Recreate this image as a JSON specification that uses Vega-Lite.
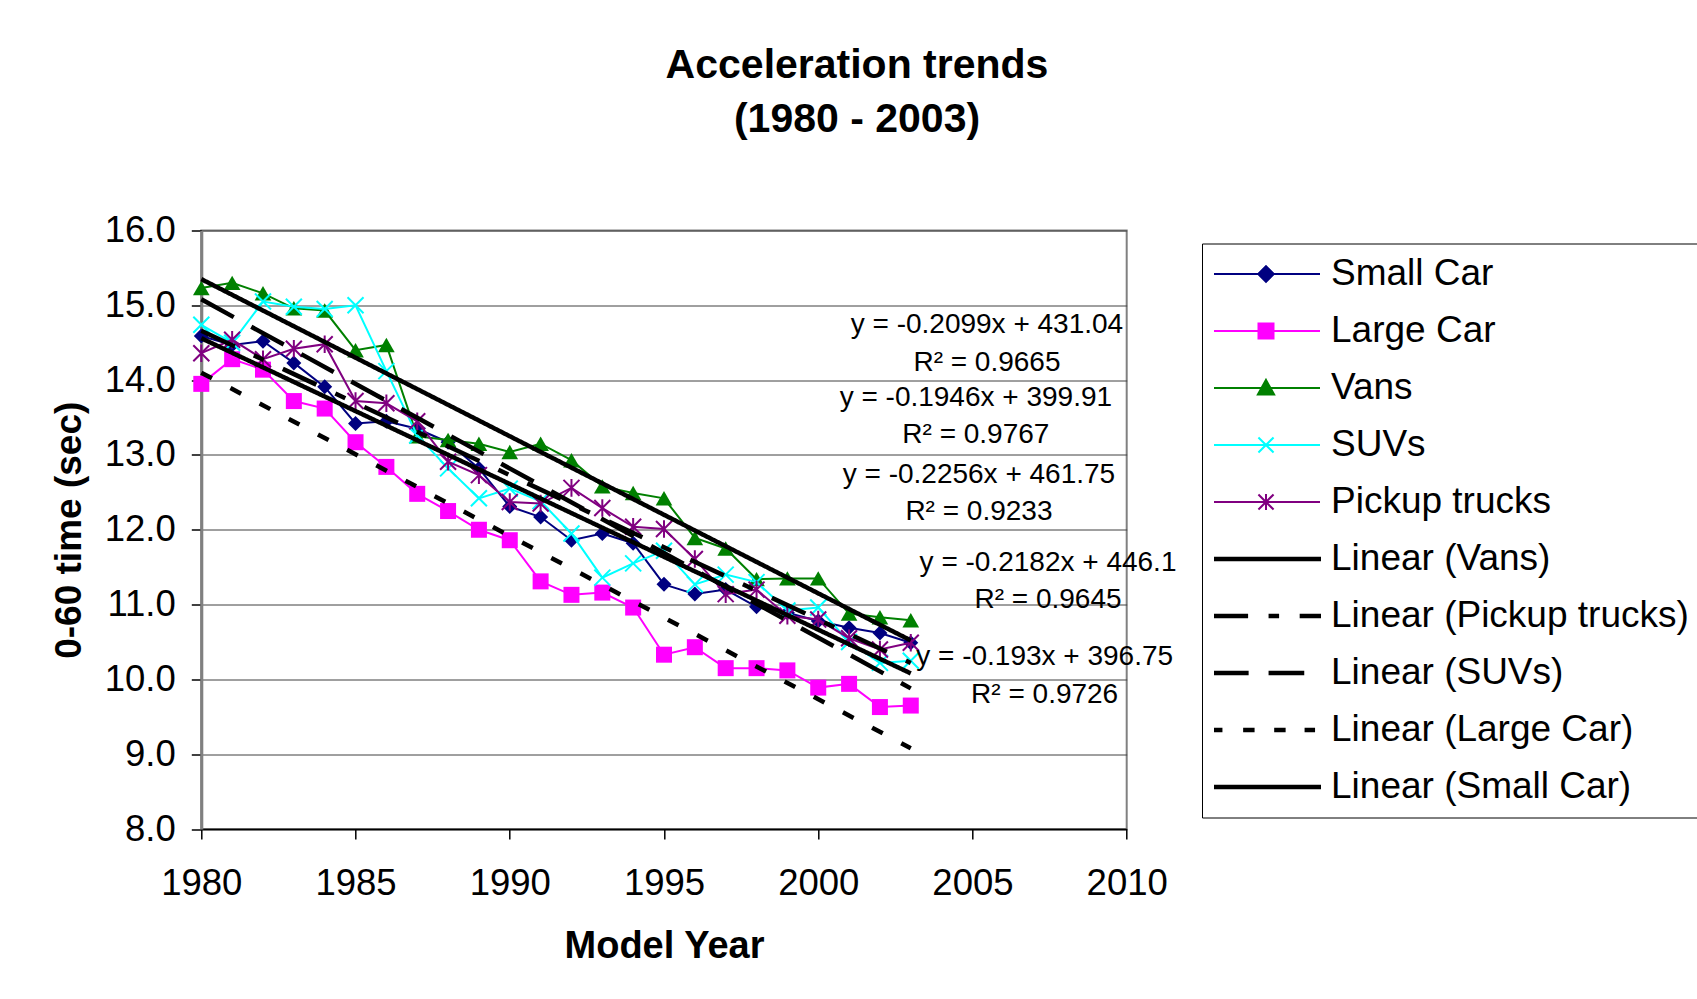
{
  "$schema": "https://vega.github.io/schema/vega-lite/v6.json",
  "width": 925.4,
  "height": 598.5,
  "autosize": {"type": "none"},
  "padding": {"left": 201.3, "top": 230.5, "right": 570.3, "bottom": 170},
  "background": "white",
  "title": {
    "text": ["Acceleration trends", "(1980 - 2003)"],
    "anchor": "middle",
    "frame": "group",
    "dx": 193,
    "offset": 72,
    "fontSize": 41,
    "font": "Liberation Sans",
    "fontWeight": "bold",
    "lineHeight": 54,
    "color": "black"
  },
  "config": {
    "font": "Liberation Sans",
    "view": {"stroke": "#808080", "strokeWidth": 2},
    "legend": {"symbolOpacity": 1, "symbolFillColor": "#000000"}
  },
  "datasets": {
    "cars": [
      {"series": "Small Car", "year": 1980, "value": 14.59}, {"series": "Small Car", "year": 1981, "value": 14.47}, {"series": "Small Car", "year": 1982, "value": 14.52}, {"series": "Small Car", "year": 1983, "value": 14.23}, {"series": "Small Car", "year": 1984, "value": 13.91}, {"series": "Small Car", "year": 1985, "value": 13.42}, {"series": "Small Car", "year": 1986, "value": 13.45}, {"series": "Small Car", "year": 1987, "value": 13.35}, {"series": "Small Car", "year": 1988, "value": 13.17}, {"series": "Small Car", "year": 1989, "value": 12.82}, {"series": "Small Car", "year": 1990, "value": 12.31}, {"series": "Small Car", "year": 1991, "value": 12.17}, {"series": "Small Car", "year": 1992, "value": 11.86}, {"series": "Small Car", "year": 1993, "value": 11.95}, {"series": "Small Car", "year": 1994, "value": 11.82}, {"series": "Small Car", "year": 1995, "value": 11.27}, {"series": "Small Car", "year": 1996, "value": 11.14}, {"series": "Small Car", "year": 1997, "value": 11.2}, {"series": "Small Car", "year": 1998, "value": 10.97}, {"series": "Small Car", "year": 1999, "value": 10.89}, {"series": "Small Car", "year": 2000, "value": 10.78}, {"series": "Small Car", "year": 2001, "value": 10.69}, {"series": "Small Car", "year": 2002, "value": 10.62}, {"series": "Small Car", "year": 2003, "value": 10.49},
      {"series": "Large Car", "year": 1980, "value": 13.95}, {"series": "Large Car", "year": 1981, "value": 14.28}, {"series": "Large Car", "year": 1982, "value": 14.14}, {"series": "Large Car", "year": 1983, "value": 13.72}, {"series": "Large Car", "year": 1984, "value": 13.62}, {"series": "Large Car", "year": 1985, "value": 13.17}, {"series": "Large Car", "year": 1986, "value": 12.84}, {"series": "Large Car", "year": 1987, "value": 12.48}, {"series": "Large Car", "year": 1988, "value": 12.25}, {"series": "Large Car", "year": 1989, "value": 12.0}, {"series": "Large Car", "year": 1990, "value": 11.86}, {"series": "Large Car", "year": 1991, "value": 11.31}, {"series": "Large Car", "year": 1992, "value": 11.13}, {"series": "Large Car", "year": 1993, "value": 11.16}, {"series": "Large Car", "year": 1994, "value": 10.96}, {"series": "Large Car", "year": 1995, "value": 10.33}, {"series": "Large Car", "year": 1996, "value": 10.43}, {"series": "Large Car", "year": 1997, "value": 10.15}, {"series": "Large Car", "year": 1998, "value": 10.15}, {"series": "Large Car", "year": 1999, "value": 10.12}, {"series": "Large Car", "year": 2000, "value": 9.89}, {"series": "Large Car", "year": 2001, "value": 9.94}, {"series": "Large Car", "year": 2002, "value": 9.63}, {"series": "Large Car", "year": 2003, "value": 9.65},
      {"series": "Vans", "year": 1980, "value": 15.23}, {"series": "Vans", "year": 1981, "value": 15.3}, {"series": "Vans", "year": 1982, "value": 15.16}, {"series": "Vans", "year": 1983, "value": 14.96}, {"series": "Vans", "year": 1984, "value": 14.93}, {"series": "Vans", "year": 1985, "value": 14.4}, {"series": "Vans", "year": 1986, "value": 14.47}, {"series": "Vans", "year": 1987, "value": 13.25}, {"series": "Vans", "year": 1988, "value": 13.2}, {"series": "Vans", "year": 1989, "value": 13.15}, {"series": "Vans", "year": 1990, "value": 13.04}, {"series": "Vans", "year": 1991, "value": 13.15}, {"series": "Vans", "year": 1992, "value": 12.93}, {"series": "Vans", "year": 1993, "value": 12.58}, {"series": "Vans", "year": 1994, "value": 12.49}, {"series": "Vans", "year": 1995, "value": 12.42}, {"series": "Vans", "year": 1996, "value": 11.89}, {"series": "Vans", "year": 1997, "value": 11.75}, {"series": "Vans", "year": 1998, "value": 11.34}, {"series": "Vans", "year": 1999, "value": 11.35}, {"series": "Vans", "year": 2000, "value": 11.35}, {"series": "Vans", "year": 2001, "value": 10.88}, {"series": "Vans", "year": 2002, "value": 10.83}, {"series": "Vans", "year": 2003, "value": 10.79},
      {"series": "SUVs", "year": 1980, "value": 14.74}, {"series": "SUVs", "year": 1981, "value": 14.5}, {"series": "SUVs", "year": 1982, "value": 15.05}, {"series": "SUVs", "year": 1983, "value": 14.98}, {"series": "SUVs", "year": 1984, "value": 14.95}, {"series": "SUVs", "year": 1985, "value": 15.0}, {"series": "SUVs", "year": 1986, "value": 14.12}, {"series": "SUVs", "year": 1987, "value": 13.26}, {"series": "SUVs", "year": 1988, "value": 12.82}, {"series": "SUVs", "year": 1989, "value": 12.42}, {"series": "SUVs", "year": 1990, "value": 12.55}, {"series": "SUVs", "year": 1991, "value": 12.38}, {"series": "SUVs", "year": 1992, "value": 11.95}, {"series": "SUVs", "year": 1993, "value": 11.36}, {"series": "SUVs", "year": 1994, "value": 11.55}, {"series": "SUVs", "year": 1995, "value": 11.72}, {"series": "SUVs", "year": 1996, "value": 11.27}, {"series": "SUVs", "year": 1997, "value": 11.4}, {"series": "SUVs", "year": 1998, "value": 11.3}, {"series": "SUVs", "year": 1999, "value": 10.92}, {"series": "SUVs", "year": 2000, "value": 10.96}, {"series": "SUVs", "year": 2001, "value": 10.5}, {"series": "SUVs", "year": 2002, "value": 10.22}, {"series": "SUVs", "year": 2003, "value": 10.25},
      {"series": "Pickup trucks", "year": 1980, "value": 14.36}, {"series": "Pickup trucks", "year": 1981, "value": 14.54}, {"series": "Pickup trucks", "year": 1982, "value": 14.28}, {"series": "Pickup trucks", "year": 1983, "value": 14.42}, {"series": "Pickup trucks", "year": 1984, "value": 14.48}, {"series": "Pickup trucks", "year": 1985, "value": 13.72}, {"series": "Pickup trucks", "year": 1986, "value": 13.69}, {"series": "Pickup trucks", "year": 1987, "value": 13.45}, {"series": "Pickup trucks", "year": 1988, "value": 12.91}, {"series": "Pickup trucks", "year": 1989, "value": 12.73}, {"series": "Pickup trucks", "year": 1990, "value": 12.37}, {"series": "Pickup trucks", "year": 1991, "value": 12.35}, {"series": "Pickup trucks", "year": 1992, "value": 12.56}, {"series": "Pickup trucks", "year": 1993, "value": 12.29}, {"series": "Pickup trucks", "year": 1994, "value": 12.04}, {"series": "Pickup trucks", "year": 1995, "value": 12.01}, {"series": "Pickup trucks", "year": 1996, "value": 11.61}, {"series": "Pickup trucks", "year": 1997, "value": 11.14}, {"series": "Pickup trucks", "year": 1998, "value": 11.2}, {"series": "Pickup trucks", "year": 1999, "value": 10.85}, {"series": "Pickup trucks", "year": 2000, "value": 10.8}, {"series": "Pickup trucks", "year": 2001, "value": 10.55}, {"series": "Pickup trucks", "year": 2002, "value": 10.4}, {"series": "Pickup trucks", "year": 2003, "value": 10.49}
    ],
    "trends": [
      {"series": "Linear (Vans)", "year": 1980, "value": 15.35}, {"series": "Linear (Vans)", "year": 2003, "value": 10.52},
      {"series": "Linear (Pickup trucks)", "year": 1980, "value": 14.66}, {"series": "Linear (Pickup trucks)", "year": 2003, "value": 10.22},
      {"series": "Linear (SUVs)", "year": 1980, "value": 15.08}, {"series": "Linear (SUVs)", "year": 2003, "value": 9.88},
      {"series": "Linear (Large Car)", "year": 1980, "value": 14.1}, {"series": "Linear (Large Car)", "year": 2003, "value": 9.08},
      {"series": "Linear (Small Car)", "year": 1980, "value": 14.56}, {"series": "Linear (Small Car)", "year": 2003, "value": 10.08}
    ],
    "equations": [
      {"label": "y = -0.2099x + 431.04", "year": 2005.47, "value": 14.737},
      {"label": "R² = 0.9665", "year": 2005.47, "value": 14.233},
      {"label": "y = -0.1946x + 399.91", "year": 2005.11, "value": 13.757},
      {"label": "R² = 0.9767", "year": 2005.11, "value": 13.266},
      {"label": "y = -0.2256x + 461.75", "year": 2005.21, "value": 12.732},
      {"label": "R² = 0.9233", "year": 2005.21, "value": 12.241},
      {"label": "y = -0.2182x + 446.1", "year": 2007.45, "value": 11.551},
      {"label": "R² = 0.9645", "year": 2007.45, "value": 11.061},
      {"label": "y = -0.193x + 396.75", "year": 2007.34, "value": 10.303},
      {"label": "R² = 0.9726", "year": 2007.34, "value": 9.791}
    ],
    "legend": [
      {"series": "Small Car"}, {"series": "Large Car"}, {"series": "Vans"}, {"series": "SUVs"}, {"series": "Pickup trucks"},
      {"series": "Linear (Vans)"}, {"series": "Linear (Pickup trucks)"}, {"series": "Linear (SUVs)"}, {"series": "Linear (Large Car)"}, {"series": "Linear (Small Car)"}
    ]
  },
  "encoding": {
    "x": {
      "field": "year", "type": "quantitative",
      "scale": {"domain": [1980, 2010], "nice": false, "zero": false},
      "axis": {
        "title": "Model Year", "values": [1980, 1985, 1990, 1995, 2000, 2005, 2010], "format": "d",
        "labelFontSize": 36.5, "labelColor": "black", "labelPadding": 26, "labelFlush": false, "labelOverlap": false,
        "tickSize": 10, "tickColor": "black", "tickWidth": 1.5, "domainColor": "black", "domainWidth": 1.5, "grid": false,
        "titleFontSize": 38, "titleFontWeight": "bold", "titleColor": "black", "titlePadding": 26
      }
    },
    "y": {
      "field": "value", "type": "quantitative",
      "scale": {"domain": [8, 16], "nice": false, "zero": false},
      "axis": {
        "title": "0-60 time (sec)", "values": [8, 9, 10, 11, 12, 13, 14, 15, 16], "format": ".1f",
        "labelFontSize": 36.5, "labelColor": "black", "labelPadding": 16, "labelFlush": false, "labelOverlap": false,
        "tickSize": 10, "tickColor": "black", "tickWidth": 1.5, "domainColor": "#808080", "domainWidth": 3,
        "grid": true, "gridColor": "#404040", "gridWidth": 1,
        "titleFontSize": 37, "titleFontWeight": "bold", "titleColor": "black", "titlePadding": 16
      }
    }
  },
  "layer": [
    {
      "data": {"name": "cars"},
      "transform": [{"filter": {"field": "series", "equal": "Small Car"}}],
      "mark": {"type": "line", "color": "#000080", "strokeWidth": 2, "point": {"shape": "diamond", "filled": true, "size": 225, "color": "#000080"}}
    },
    {
      "data": {"name": "cars"},
      "transform": [{"filter": {"field": "series", "equal": "Large Car"}}],
      "mark": {"type": "line", "color": "#FF00FF", "strokeWidth": 2, "point": {"shape": "square", "filled": true, "size": 256, "color": "#FF00FF"}}
    },
    {
      "data": {"name": "cars"},
      "transform": [{"filter": {"field": "series", "equal": "Vans"}}],
      "mark": {"type": "line", "color": "#008000", "strokeWidth": 2, "point": {"shape": "triangle-up", "filled": true, "size": 278, "color": "#008000"}}
    },
    {
      "data": {"name": "cars"},
      "transform": [{"filter": {"field": "series", "equal": "SUVs"}}],
      "mark": {"type": "line", "color": "#00FFFF", "strokeWidth": 2, "point": {"shape": "M-1,-1L1,1M-1,1L1,-1", "filled": false, "size": 256, "strokeWidth": 2, "color": "#00FFFF"}}
    },
    {
      "data": {"name": "cars"},
      "transform": [{"filter": {"field": "series", "equal": "Pickup trucks"}}],
      "mark": {"type": "line", "color": "#800080", "strokeWidth": 2, "point": {"shape": "M-1,-1L1,1M-1,1L1,-1M0,-1.1L0,1.1", "filled": false, "size": 256, "strokeWidth": 2, "color": "#800080"}}
    },
    {
      "data": {"name": "trends"},
      "mark": {"type": "line", "color": "black", "strokeWidth": 4.5, "strokeCap": "butt"},
      "encoding": {
        "detail": {"field": "series", "type": "nominal"},
        "strokeDash": {
          "field": "series", "type": "nominal",
          "scale": {
            "domain": ["Linear (Vans)", "Linear (Pickup trucks)", "Linear (SUVs)", "Linear (Large Car)", "Linear (Small Car)"],
            "range": [[1, 0], [37, 21, 11, 21], [37, 20], [12, 21], [1, 0]]
          },
          "legend": null
        }
      }
    },
    {
      "data": {"name": "equations"},
      "mark": {"type": "text", "fontSize": 28, "color": "black", "align": "center", "baseline": "middle"},
      "encoding": {"text": {"field": "label", "type": "nominal"}}
    },
    {
      "data": {"name": "legend"},
      "mark": {"type": "point", "filled": true, "opacity": 0},
      "encoding": {
        "shape": {
          "field": "series", "type": "nominal",
          "scale": {
            "domain": ["Small Car", "Large Car", "Vans", "SUVs", "Pickup trucks", "Linear (Vans)", "Linear (Pickup trucks)", "Linear (SUVs)", "Linear (Large Car)", "Linear (Small Car)"],
            "range": [
              "M-1,0H1M0,-0.145L0.145,0L0,0.145L-0.145,0Z",
              "M-1,0H1M-0.139,-0.139H0.139V0.139H-0.139Z",
              "M-1,0H1M0,-0.15L0.15,0.12L-0.15,0.12Z",
              "M-1,0H1M-0.14,-0.14L0.14,0.14M-0.14,0.14L0.14,-0.14",
              "M-1,0H1M-0.14,-0.14L0.14,0.14M-0.14,0.14L0.14,-0.14M0,-0.15V0.15",
              "M-1,-0.023H1V0.023H-1Z",
              "M-1,-0.023H-0.35V0.023H-1Z M0.066,-0.023H0.224V0.023H0.066Z M0.642,-0.023H1V0.023H0.642Z",
              "M-1,-0.023H-0.34V0.023H-1Z M0.066,-0.023H0.69V0.023H0.066Z",
              "M-0.98,-0.023H-0.825V0.023H-0.98Z M-0.405,-0.023H-0.23V0.023H-0.405Z M0.17,-0.023H0.345V0.023H0.17Z M0.733,-0.023H0.89V0.023H0.733Z",
              "M-1,-0.023H1V0.023H-1Z"
            ]
          },
          "legend": {"title": null, "orient": "none", "legendX": 1000.7, "legendY": 13, "padding": 12, "symbolOffset": -3, "labelOffset": 10, "rowPadding": 19, "clipHeight": 37, "labelFontSize": 37, "labelColor": "black", "labelLimit": 1000, "symbolSize": 11664, "symbolStrokeWidth": 2, "strokeColor": "#000000", "fillColor": "white"}
        },
        "fill": {
          "field": "series", "type": "nominal",
          "scale": {
            "domain": ["Small Car", "Large Car", "Vans", "SUVs", "Pickup trucks", "Linear (Vans)", "Linear (Pickup trucks)", "Linear (SUVs)", "Linear (Large Car)", "Linear (Small Car)"],
            "range": ["#000080", "#FF00FF", "#008000", "#00FFFF", "#800080", "#000000", "#000000", "#000000", "#000000", "#000000"]
          },
          "legend": {"title": null, "orient": "none", "legendX": 1000.7, "legendY": 13, "padding": 12, "symbolOffset": -3, "labelOffset": 10, "rowPadding": 19, "clipHeight": 37, "labelFontSize": 37, "labelColor": "black", "labelLimit": 1000, "symbolSize": 11664, "symbolStrokeWidth": 2, "strokeColor": "#000000", "fillColor": "white"}
        },
        "stroke": {
          "field": "series", "type": "nominal",
          "scale": {
            "domain": ["Small Car", "Large Car", "Vans", "SUVs", "Pickup trucks", "Linear (Vans)", "Linear (Pickup trucks)", "Linear (SUVs)", "Linear (Large Car)", "Linear (Small Car)"],
            "range": ["#000080", "#FF00FF", "#008000", "#00FFFF", "#800080", "#000000", "#000000", "#000000", "#000000", "#000000"]
          },
          "legend": {"title": null, "orient": "none", "legendX": 1000.7, "legendY": 13, "padding": 12, "symbolOffset": -3, "labelOffset": 10, "rowPadding": 19, "clipHeight": 37, "labelFontSize": 37, "labelColor": "black", "labelLimit": 1000, "symbolSize": 11664, "symbolStrokeWidth": 2, "strokeColor": "#000000", "fillColor": "white"}
        }
      }
    }
  ]
}
